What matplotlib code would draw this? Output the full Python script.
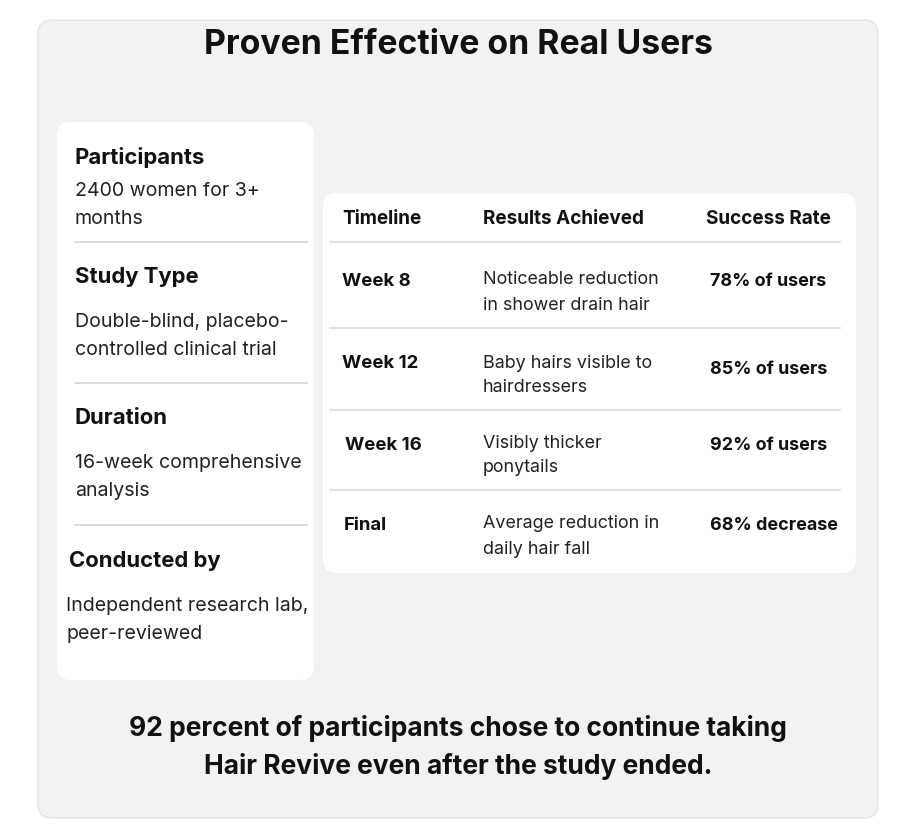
import matplotlib
matplotlib.use("Agg")
import matplotlib.pyplot as plt
from matplotlib.patches import FancyBboxPatch

plt.rcParams['font.family'] = ['Inter', 'DejaVu Sans']

title = "Proven Effective on Real Users"
left_heads = ["Participants", "Study Type", "Duration", "Conducted by"]
left_bodies = [["2400 women for 3+", "months"],
               ["Double-blind, placebo-", "controlled clinical trial"],
               ["16-week comprehensive", "analysis"],
               ["Independent research lab,", "peer-reviewed"]]
table_headers = ["Timeline", "Results Achieved", "Success Rate"]
timelines = ["Week 8", "Week 12", "Week 16", "Final"]
results = [["Noticeable reduction", "in shower drain hair"],
           ["Baby hairs visible to", "hairdressers"],
           ["Visibly thicker", "ponytails"],
           ["Average reduction in", "daily hair fall"]]
rates = ["78% of users", "85% of users", "92% of users", "68% decrease"]
footer = ["92 percent of participants chose to continue taking",
          "Hair Revive even after the study ended."]

fig = plt.figure(figsize=(9.16, 8.4), dpi=100)
ax = fig.add_axes([0, 0, 1, 1])
ax.set_xlim(0, 916); ax.set_ylim(840, 0); ax.axis('off')
fig.patch.set_facecolor('white')

def box(x0, y0, x1, y1, fc, r, ec='none'):
    ax.add_patch(FancyBboxPatch((x0, y0), x1 - x0, y1 - y0,
                 boxstyle=f"round,pad=0,rounding_size={r}", fc=fc, ec=ec, lw=1))

box(38, 20, 878, 818, '#f1f3f2', 14, ec='#e4e6e5')
box(57, 122, 314, 680, 'white', 14)
box(323, 193, 856, 573, 'white', 14)

txt = '#111111'
ax.text(458, 45, title, ha='center', va='center', fontsize=24.3, fontweight='bold', color=txt)

head_y = [158, 277, 418, 561]
head_x = [75, 75, 75, 69]
body_y = [(191, 219), (322, 350), (463, 491), (606, 634)]
body_x = [75, 75, 75, 66]
for i, h in enumerate(left_heads):
    ax.text(head_x[i], head_y[i], h, ha='left', va='center', fontsize=15.9, fontweight='bold', color=txt)
    for j, line in enumerate(left_bodies[i]):
        ax.text(body_x[i], body_y[i][j], line, ha='left', va='center', fontsize=14.1, color='#222222')
for y in [242, 383, 525]:
    ax.plot([75, 307], [y, y], color='#d4d4d4', lw=1.2)

hx = [342, 483, 706]
for x, h in zip(hx, table_headers):
    ax.text(x, 219, h, ha='left', va='center', fontsize=13.6, fontweight='bold', color=txt)
for y in [242, 328, 410, 490]:
    ax.plot([330, 840], [y, y], color='#d9d9d9', lw=1.2)

tl_pos = [(342, 281), (342, 364), (345, 446), (344, 526)]
res_y = [(280, 306), (363, 388), (444, 468), (524, 550)]
rate_pos = [(710, 282), (710, 369), (710, 446), (710, 525)]
for i in range(4):
    ax.text(*tl_pos[i], timelines[i], ha='left', va='center', fontsize=13.4, fontweight='bold', color=txt)
    for j, line in enumerate(results[i]):
        ax.text(483, res_y[i][j], line, ha='left', va='center', fontsize=12.9, color='#222222')
    ax.text(*rate_pos[i], rates[i], ha='left', va='center', fontsize=12.9, fontweight='bold', color=txt)

for y, line in zip([728, 766], footer):
    ax.text(458, y, line, ha='center', va='center', fontsize=19, fontweight='bold', color=txt)

fig.savefig('out.png', dpi=100)
